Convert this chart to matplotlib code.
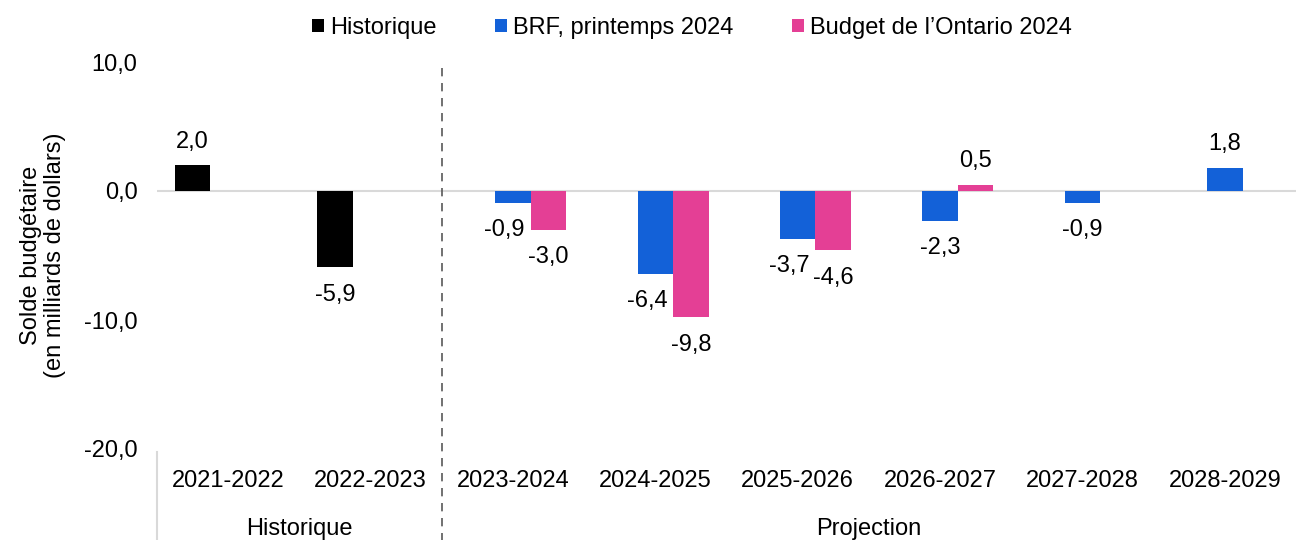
import matplotlib
matplotlib.use("Agg")
import matplotlib.pyplot as plt
from matplotlib.transforms import blended_transform_factory
import numpy as np

plt.rcParams['font.family'] = ['Liberation Sans', 'DejaVu Sans']

periodes = ["2021-2022", "2022-2023", "2023-2024", "2024-2025",
            "2025-2026", "2026-2027", "2027-2028", "2028-2029"]
historique = [2.0, -5.9, np.nan, np.nan, np.nan, np.nan, np.nan, np.nan]
brf = [np.nan, np.nan, -0.9, -6.4, -3.7, -2.3, -0.9, 1.8]
budget = [np.nan, np.nan, -3.0, -9.8, -4.6, 0.5, np.nan, np.nan]
series_noms = ["Historique", "BRF, printemps 2024", "Budget de l\u2019Ontario 2024"]
groupes = ["Historique", "Projection"]
groupes_etendue = [(0, 1), (2, 7)]
yticks = [-20, -10, 0, 10]

noir = "#000000"
bleu = "#1361D8"
rose = "#E43F95"
fs = 17

fig = plt.figure(figsize=(12.96, 5.4), dpi=100)
ax = fig.add_axes([157/1296, 1-449/540, 1-157/1296, 387/540])

x = np.arange(len(periodes))
w = 0.25
b1 = ax.bar(x - w, historique, w, color=noir, label=series_noms[0])
b2 = ax.bar(x, brf, w, color=bleu, label=series_noms[1])
b3 = ax.bar(x + w, budget, w, color=rose, label=series_noms[2])

def fmt(v):
    return f"{v:.1f}".replace(".", ",")

# étiquettes de données (BRF décalé à gauche quand la barre du budget est à côté)
for bars, vals, nom in [(b1, historique, "h"), (b2, brf, "b"), (b3, budget, "o")]:
    for i, (rect, v) in enumerate(zip(bars, vals)):
        if np.isnan(v):
            continue
        dx = 0
        if nom == "b" and not np.isnan(budget[i]) and budget[i] < 0:
            dx = -6
        dy = 9 if v >= 0 else -12
        ax.annotate(fmt(v), (rect.get_x() + rect.get_width()/2, v),
                    xytext=(dx, dy), textcoords="offset points",
                    ha="center", va="bottom" if v >= 0 else "top", fontsize=fs)

ax.set_xlim(-0.5, len(periodes) - 0.5)
ax.set_ylim(-20, 10)
ax.set_yticks(yticks)
ax.set_yticklabels([fmt(t) for t in yticks], fontsize=fs)
ax.tick_params(axis="y", length=0, pad=14)
ax.set_xticks([])
for s in ax.spines.values():
    s.set_visible(False)
ax.axhline(0, color="#d9d9d9", lw=1.5, zorder=0)

ax.set_ylabel("Solde budgétaire\n(en milliards de dollars)", fontsize=fs, labelpad=13,
              linespacing=1.1)

trans = blended_transform_factory(ax.transData, ax.transAxes)
for i, p in enumerate(periodes):
    ax.text(i, -0.083, p, transform=trans, ha="center", va="center", fontsize=fs)
for nom, (a, b) in zip(groupes, groupes_etendue):
    ax.text((a + b) / 2, -0.206, nom, transform=trans, ha="center", va="center", fontsize=fs)

ax.plot([-0.5, -0.5], [-0.008, -0.24], transform=trans, color="#d9d9d9", lw=1.5, clip_on=False)
ax.plot([1.5, 1.5], [0.985, -0.24], transform=trans, color="#595959", lw=1.2,
        ls=(0, (5, 4)), clip_on=False)

leg = fig.legend(loc="center", bbox_to_anchor=(692/1296, 1-28/540), ncol=3, frameon=False,
                 fontsize=fs, handlelength=0.5, handleheight=0.5, handletextpad=0.25,
                 columnspacing=2.5)

fig.savefig("out.png", dpi=100)
